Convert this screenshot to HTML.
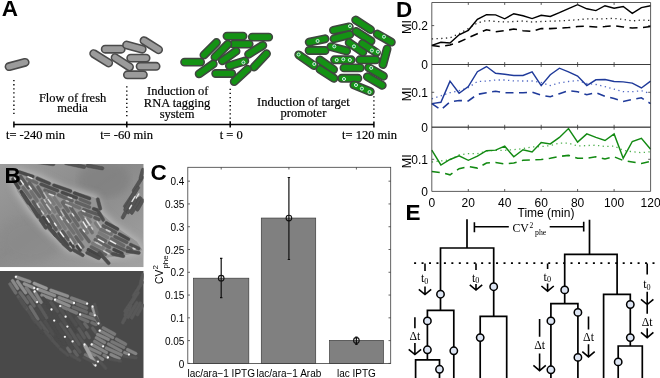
<!DOCTYPE html>
<html><head><meta charset="utf-8"><title>Figure</title>
<style>
html,body{margin:0;padding:0;background:#fff;}
body{width:660px;height:378px;overflow:hidden;font-family:"Liberation Sans",sans-serif;}
svg{display:block;}
text{opacity:0.999;}
</style></head><body>
<svg width="660" height="378" viewBox="0 0 660 378">
<rect width="660" height="378" fill="#fff"/>
<g id="panelA">
<rect x="-12.00" y="-3.65" width="24.00" height="7.30" rx="3.65" transform="translate(17.10 64.50) rotate(-15.0)" fill="#9b9b9b" stroke="#4a4a4a" stroke-width="1.6"/>
<rect x="-12.50" y="-3.65" width="25.00" height="7.30" rx="3.65" transform="translate(101.20 58.30) rotate(32.0)" fill="#9b9b9b" stroke="#4a4a4a" stroke-width="1.6"/>
<rect x="-11.65" y="-3.65" width="23.30" height="7.30" rx="3.65" transform="translate(113.20 49.20) rotate(0.0)" fill="#9b9b9b" stroke="#4a4a4a" stroke-width="1.6"/>
<rect x="-12.25" y="-3.65" width="24.50" height="7.30" rx="3.65" transform="translate(151.30 45.20) rotate(32.0)" fill="#9b9b9b" stroke="#4a4a4a" stroke-width="1.6"/>
<rect x="-11.75" y="-3.65" width="23.50" height="7.30" rx="3.65" transform="translate(134.40 47.10) rotate(15.0)" fill="#9b9b9b" stroke="#4a4a4a" stroke-width="1.6"/>
<rect x="-12.25" y="-3.65" width="24.50" height="7.30" rx="3.65" transform="translate(122.30 62.30) rotate(33.0)" fill="#9b9b9b" stroke="#4a4a4a" stroke-width="1.6"/>
<rect x="-11.35" y="-3.65" width="22.70" height="7.30" rx="3.65" transform="translate(138.40 58.10) rotate(0.0)" fill="#9b9b9b" stroke="#4a4a4a" stroke-width="1.6"/>
<rect x="-11.65" y="-3.65" width="23.30" height="7.30" rx="3.65" transform="translate(148.10 66.30) rotate(0.0)" fill="#9b9b9b" stroke="#4a4a4a" stroke-width="1.6"/>
<rect x="-11.65" y="-3.65" width="23.30" height="7.30" rx="3.65" transform="translate(135.40 74.80) rotate(0.0)" fill="#9b9b9b" stroke="#4a4a4a" stroke-width="1.6"/>
<rect x="-11.50" y="-3.65" width="23.00" height="7.30" rx="3.65" transform="translate(241.30 44.10) rotate(0.0)" fill="#149214" stroke="#3f463f" stroke-width="1.6"/>
<rect x="-11.65" y="-3.65" width="23.30" height="7.30" rx="3.65" transform="translate(235.00 36.10) rotate(0.0)" fill="#149214" stroke="#3f463f" stroke-width="1.6"/>
<rect x="-11.85" y="-3.65" width="23.70" height="7.30" rx="3.65" transform="translate(260.50 37.10) rotate(0.0)" fill="#149214" stroke="#3f463f" stroke-width="1.6"/>
<rect x="-12.50" y="-3.65" width="25.00" height="7.30" rx="3.65" transform="translate(210.20 48.80) rotate(-45.0)" fill="#149214" stroke="#3f463f" stroke-width="1.6"/>
<rect x="-12.75" y="-3.65" width="25.50" height="7.30" rx="3.65" transform="translate(221.40 50.70) rotate(-45.0)" fill="#149214" stroke="#3f463f" stroke-width="1.6"/>
<rect x="-12.00" y="-3.65" width="24.00" height="7.30" rx="3.65" transform="translate(229.20 56.00) rotate(-35.0)" fill="#149214" stroke="#3f463f" stroke-width="1.6"/>
<rect x="-12.00" y="-3.65" width="24.00" height="7.30" rx="3.65" transform="translate(255.70 49.80) rotate(-32.0)" fill="#149214" stroke="#3f463f" stroke-width="1.6"/>
<rect x="-12.75" y="-3.65" width="25.50" height="7.30" rx="3.65" transform="translate(260.30 60.40) rotate(-47.0)" fill="#149214" stroke="#3f463f" stroke-width="1.6"/>
<rect x="-11.65" y="-3.65" width="23.30" height="7.30" rx="3.65" transform="translate(192.60 62.10) rotate(0.0)" fill="#149214" stroke="#3f463f" stroke-width="1.6"/>
<rect x="-12.25" y="-3.65" width="24.50" height="7.30" rx="3.65" transform="translate(206.20 68.90) rotate(-35.0)" fill="#149214" stroke="#3f463f" stroke-width="1.6"/>
<rect x="-11.75" y="-3.65" width="23.50" height="7.30" rx="3.65" transform="translate(237.10 63.40) rotate(-17.0)" fill="#149214" stroke="#3f463f" stroke-width="1.6"/>
<rect x="-11.65" y="-3.65" width="23.30" height="7.30" rx="3.65" transform="translate(223.70 73.50) rotate(0.0)" fill="#149214" stroke="#3f463f" stroke-width="1.6"/>
<rect x="-12.75" y="-3.65" width="25.50" height="7.30" rx="3.65" transform="translate(240.90 75.40) rotate(-43.0)" fill="#149214" stroke="#3f463f" stroke-width="1.6"/>
<circle cx="243.40" cy="62.50" r="1.55" fill="#12a04a" stroke="#e4f3e4" stroke-width="0.95"/>
<rect x="-11.75" y="-3.65" width="23.50" height="7.30" rx="3.65" transform="translate(341.90 36.70) rotate(-15.0)" fill="#149214" stroke="#3f463f" stroke-width="1.6"/>
<rect x="-11.75" y="-3.65" width="23.50" height="7.30" rx="3.65" transform="translate(341.40 28.60) rotate(-12.0)" fill="#149214" stroke="#3f463f" stroke-width="1.6"/>
<rect x="-12.50" y="-3.65" width="25.00" height="7.30" rx="3.65" transform="translate(363.60 36.20) rotate(33.0)" fill="#149214" stroke="#3f463f" stroke-width="1.6"/>
<rect x="-12.50" y="-3.65" width="25.00" height="7.30" rx="3.65" transform="translate(363.10 24.80) rotate(33.0)" fill="#149214" stroke="#3f463f" stroke-width="1.6"/>
<rect x="-11.75" y="-3.65" width="23.50" height="7.30" rx="3.65" transform="translate(384.30 38.10) rotate(30.0)" fill="#149214" stroke="#3f463f" stroke-width="1.6"/>
<rect x="-11.75" y="-3.65" width="23.50" height="7.30" rx="3.65" transform="translate(385.00 56.70) rotate(-75.0)" fill="#149214" stroke="#3f463f" stroke-width="1.6"/>
<rect x="-11.65" y="-3.65" width="23.30" height="7.30" rx="3.65" transform="translate(317.10 50.50) rotate(0.0)" fill="#149214" stroke="#3f463f" stroke-width="1.6"/>
<rect x="-11.75" y="-3.65" width="23.50" height="7.30" rx="3.65" transform="translate(317.10 40.50) rotate(-12.0)" fill="#149214" stroke="#3f463f" stroke-width="1.6"/>
<rect x="-11.75" y="-3.65" width="23.50" height="7.30" rx="3.65" transform="translate(338.80 48.80) rotate(15.0)" fill="#149214" stroke="#3f463f" stroke-width="1.6"/>
<rect x="-12.00" y="-3.65" width="24.00" height="7.30" rx="3.65" transform="translate(356.00 47.40) rotate(35.0)" fill="#149214" stroke="#3f463f" stroke-width="1.6"/>
<rect x="-12.00" y="-3.65" width="24.00" height="7.30" rx="3.65" transform="translate(369.50 48.10) rotate(33.0)" fill="#149214" stroke="#3f463f" stroke-width="1.6"/>
<rect x="-13.00" y="-3.65" width="26.00" height="7.30" rx="3.65" transform="translate(306.40 60.20) rotate(35.0)" fill="#149214" stroke="#3f463f" stroke-width="1.6"/>
<rect x="-12.00" y="-3.65" width="24.00" height="7.30" rx="3.65" transform="translate(326.70 64.80) rotate(35.0)" fill="#149214" stroke="#3f463f" stroke-width="1.6"/>
<rect x="-12.00" y="-3.65" width="24.00" height="7.30" rx="3.65" transform="translate(342.90 59.80) rotate(0.0)" fill="#149214" stroke="#3f463f" stroke-width="1.6"/>
<rect x="-11.75" y="-3.65" width="23.50" height="7.30" rx="3.65" transform="translate(367.90 59.80) rotate(0.0)" fill="#149214" stroke="#3f463f" stroke-width="1.6"/>
<rect x="-11.75" y="-3.65" width="23.50" height="7.30" rx="3.65" transform="translate(352.10 67.90) rotate(0.0)" fill="#149214" stroke="#3f463f" stroke-width="1.6"/>
<rect x="-12.25" y="-3.65" width="24.50" height="7.30" rx="3.65" transform="translate(376.00 71.90) rotate(30.0)" fill="#149214" stroke="#3f463f" stroke-width="1.6"/>
<rect x="-12.00" y="-3.65" width="24.00" height="7.30" rx="3.65" transform="translate(326.90 73.80) rotate(33.0)" fill="#149214" stroke="#3f463f" stroke-width="1.6"/>
<rect x="-11.75" y="-3.65" width="23.50" height="7.30" rx="3.65" transform="translate(349.80 78.30) rotate(0.0)" fill="#149214" stroke="#3f463f" stroke-width="1.6"/>
<rect x="-12.25" y="-3.65" width="24.50" height="7.30" rx="3.65" transform="translate(374.80 81.00) rotate(30.0)" fill="#149214" stroke="#3f463f" stroke-width="1.6"/>
<rect x="-12.50" y="-3.65" width="25.00" height="7.30" rx="3.65" transform="translate(362.10 88.30) rotate(22.0)" fill="#149214" stroke="#3f463f" stroke-width="1.6"/>
<circle cx="350.00" cy="26.20" r="1.55" fill="#12a04a" stroke="#e4f3e4" stroke-width="0.95"/>
<circle cx="384.00" cy="36.70" r="1.55" fill="#12a04a" stroke="#e4f3e4" stroke-width="0.95"/>
<circle cx="317.60" cy="41.00" r="1.55" fill="#12a04a" stroke="#e4f3e4" stroke-width="0.95"/>
<circle cx="334.30" cy="46.40" r="1.55" fill="#12a04a" stroke="#e4f3e4" stroke-width="0.95"/>
<circle cx="354.00" cy="46.40" r="1.55" fill="#12a04a" stroke="#e4f3e4" stroke-width="0.95"/>
<circle cx="371.90" cy="50.50" r="1.55" fill="#12a04a" stroke="#e4f3e4" stroke-width="0.95"/>
<circle cx="377.90" cy="51.70" r="1.55" fill="#12a04a" stroke="#e4f3e4" stroke-width="0.95"/>
<circle cx="298.60" cy="54.50" r="1.55" fill="#12a04a" stroke="#e4f3e4" stroke-width="0.95"/>
<circle cx="314.30" cy="64.00" r="1.55" fill="#12a04a" stroke="#e4f3e4" stroke-width="0.95"/>
<circle cx="336.70" cy="60.00" r="1.55" fill="#12a04a" stroke="#e4f3e4" stroke-width="0.95"/>
<circle cx="343.30" cy="59.30" r="1.55" fill="#12a04a" stroke="#e4f3e4" stroke-width="0.95"/>
<circle cx="349.80" cy="60.00" r="1.55" fill="#12a04a" stroke="#e4f3e4" stroke-width="0.95"/>
<circle cx="371.20" cy="67.90" r="1.55" fill="#12a04a" stroke="#e4f3e4" stroke-width="0.95"/>
<circle cx="344.00" cy="79.00" r="1.55" fill="#12a04a" stroke="#e4f3e4" stroke-width="0.95"/>
<circle cx="356.00" cy="85.00" r="1.55" fill="#12a04a" stroke="#e4f3e4" stroke-width="0.95"/>
<circle cx="361.90" cy="88.60" r="1.55" fill="#12a04a" stroke="#e4f3e4" stroke-width="0.95"/>
<circle cx="369.50" cy="92.10" r="1.55" fill="#12a04a" stroke="#e4f3e4" stroke-width="0.95"/>
<g stroke="#000" fill="none">
<path d="M13.9 124.5H373.9" stroke-width="1.5"/>
<path d="M13.9 121.4V127.6" stroke-width="1.5"/>
<path d="M126.8 121.4V127.6" stroke-width="1.5"/>
<path d="M230.2 121.4V127.6" stroke-width="1.5"/>
<path d="M373.9 121.4V127.6" stroke-width="1.5"/>
<path d="M13.9 80.0V115" stroke-width="1.4" stroke-dasharray="1.3 2.8"/>
<path d="M126.8 86.3V116.5" stroke-width="1.4" stroke-dasharray="1.3 2.8"/>
<path d="M230.2 88.7V122" stroke-width="1.4" stroke-dasharray="1.3 2.8"/>
<path d="M373.9 96.2V120.5" stroke-width="1.4" stroke-dasharray="1.3 2.8"/>
</g>
<g font-family="Liberation Serif, serif" font-size="12.5px" fill="#000" stroke="#000" stroke-width="0.2" text-anchor="middle">
<text x="72.6" y="101.6">Flow of fresh</text>
<text x="72.6" y="112.4">media</text>
<text x="177.7" y="94.8">Induction of</text>
<text x="177.0" y="106.7">RNA tagging</text>
<text x="177.0" y="118">system</text>
<text x="303.4" y="106.4">Induction of target</text>
<text x="303.4" y="117">promoter</text>
<text x="35.5" y="138.8">t= -240 min</text>
<text x="126.6" y="138.8">t= -60 min</text>
<text x="231.2" y="138.8">t = 0</text>
<text x="369.5" y="138.8">t= 120 min</text>
</g>
</g>
<defs><filter id="b1" x="-5%" y="-5%" width="110%" height="110%"><feGaussianBlur stdDeviation="0.6"/></filter><filter id="b2" x="-5%" y="-5%" width="110%" height="110%"><feGaussianBlur stdDeviation="3"/></filter><filter id="b3" x="-5%" y="-5%" width="110%" height="110%"><feGaussianBlur stdDeviation="0.5"/></filter><linearGradient id="bgT" x1="0" y1="0" x2="1" y2="1"><stop offset="0" stop-color="#9c9c9c"/><stop offset="0.45" stop-color="#8a8a8a"/><stop offset="1" stop-color="#a2a2a2"/></linearGradient><clipPath id="cT"><rect x="0" y="164" width="143.7" height="103.2"/></clipPath><clipPath id="cB"><rect x="0" y="271" width="143.7" height="107"/></clipPath></defs>
<g clip-path="url(#cT)">
<rect x="0" y="164" width="143.7" height="103.2" fill="url(#bgT)"/>
<ellipse cx="104" cy="180" rx="26" ry="18" fill="#808080" opacity="0.7" filter="url(#b2)"/>
<ellipse cx="30" cy="240" rx="30" ry="22" fill="#8a8a8a" opacity="0.6" filter="url(#b2)"/>
<polygon points="17.5,170.2 37.9,176 64.1,189.1 87.4,195 96.1,197.9 100.5,212.4 116.5,227 136.9,241.6 142.7,250.3 128.2,254.7 102,258.5 87.4,253.2 69.9,250.3 59.7,241.6 43.7,227 29.1,209.5 17.5,192 11.7,177.5" fill="#b4b4b4" stroke="#b4b4b4" stroke-width="5" filter="url(#b2)"/>
<polygon points="17.5,170.2 37.9,176 64.1,189.1 87.4,195 96.1,197.9 100.5,212.4 116.5,227 136.9,241.6 142.7,250.3 128.2,254.7 102,258.5 87.4,253.2 69.9,250.3 59.7,241.6 43.7,227 29.1,209.5 17.5,192 11.7,177.5" fill="#b8b8b8" filter="url(#b1)"/>
<polygon points="17.5,170.2 37.9,176 64.1,189.1 87.4,195 96.1,197.9 100.5,212.4 116.5,227 136.9,241.6 142.7,250.3 128.2,254.7 102,258.5 87.4,253.2 69.9,250.3 59.7,241.6 43.7,227 29.1,209.5 17.5,192 11.7,177.5" fill="#949494" filter="url(#b1)"/>
<g filter="url(#b1)">
<rect x="-8.62" y="-1.60" width="17.24" height="3.20" rx="1.60" transform="translate(26.09 174.30) rotate(18.8)" fill="#4a4a4a" stroke="#4a4a4a" stroke-width="0.3"/>
<rect x="-8.03" y="-1.60" width="16.07" height="3.20" rx="1.60" transform="translate(43.27 180.89) rotate(22.7)" fill="#4a4a4a" stroke="#4a4a4a" stroke-width="0.3"/>
<rect x="-10.37" y="-1.60" width="20.75" height="3.20" rx="1.60" transform="translate(62.22 188.17) rotate(19.2)" fill="#4a4a4a" stroke="#4a4a4a" stroke-width="0.3"/>
<rect x="-9.57" y="-1.60" width="19.15" height="3.20" rx="1.60" transform="translate(82.00 195.76) rotate(20.0)" fill="#4a4a4a" stroke="#4a4a4a" stroke-width="0.3"/>
<rect x="-6.62" y="-1.60" width="13.23" height="3.20" rx="1.60" transform="translate(32.05 180.87) rotate(23.4)" fill="#6a6a6a" stroke="#6a6a6a" stroke-width="0.3"/>
<rect x="-10.41" y="-1.60" width="20.82" height="3.20" rx="1.60" transform="translate(49.30 187.49) rotate(21.3)" fill="#505050" stroke="#505050" stroke-width="0.3"/>
<rect x="-9.11" y="-1.60" width="18.22" height="3.20" rx="1.60" transform="translate(69.34 195.19) rotate(20.3)" fill="#4a4a4a" stroke="#4a4a4a" stroke-width="0.3"/>
<rect x="-6.66" y="-1.60" width="13.33" height="3.20" rx="1.60" transform="translate(84.88 201.15) rotate(22.8)" fill="#626262" stroke="#626262" stroke-width="0.3"/>
<rect x="-6.55" y="-1.60" width="13.09" height="3.20" rx="1.60" transform="translate(49.62 191.90) rotate(20.2)" fill="#626262" stroke="#626262" stroke-width="0.3"/>
<rect x="-8.96" y="-1.60" width="17.92" height="3.20" rx="1.60" transform="translate(65.30 197.92) rotate(23.6)" fill="#626262" stroke="#626262" stroke-width="0.3"/>
<rect x="-8.60" y="-1.60" width="17.21" height="3.20" rx="1.60" transform="translate(82.93 204.69) rotate(20.5)" fill="#626262" stroke="#626262" stroke-width="0.3"/>
<rect x="-3.51" y="-1.60" width="7.02" height="3.20" rx="1.60" transform="translate(95.41 209.48) rotate(19.5)" fill="#4a4a4a" stroke="#4a4a4a" stroke-width="0.3"/>
<rect x="-10.22" y="-1.60" width="20.43" height="3.20" rx="1.60" transform="translate(71.65 204.64) rotate(22.7)" fill="#707070" stroke="#707070" stroke-width="0.3"/>
<rect x="-9.64" y="-1.60" width="19.29" height="3.20" rx="1.60" transform="translate(91.31 212.19) rotate(18.1)" fill="#5a5a5a" stroke="#5a5a5a" stroke-width="0.3"/>
<rect x="-6.76" y="-1.60" width="13.51" height="3.20" rx="1.60" transform="translate(86.11 214.48) rotate(23.1)" fill="#686868" stroke="#686868" stroke-width="0.3"/>
<rect x="-3.79" y="-1.60" width="7.59" height="3.20" rx="1.60" transform="translate(96.88 218.61) rotate(23.6)" fill="#5a5a5a" stroke="#5a5a5a" stroke-width="0.3"/>
<rect x="-3.89" y="-1.60" width="7.78" height="3.20" rx="1.60" transform="translate(96.92 225.01) rotate(55.2)" fill="#7a7a7a" stroke="#7a7a7a" stroke-width="0.3"/>
<rect x="-3.76" y="-1.60" width="7.51" height="3.20" rx="1.60" transform="translate(88.99 220.40) rotate(53.5)" fill="#7a7a7a" stroke="#7a7a7a" stroke-width="0.3"/>
<rect x="-7.93" y="-1.60" width="15.87" height="3.20" rx="1.60" transform="translate(82.88 218.49) rotate(56.7)" fill="#707070" stroke="#707070" stroke-width="0.3"/>
<rect x="-4.42" y="-1.60" width="8.85" height="3.20" rx="1.60" transform="translate(90.74 230.15) rotate(58.8)" fill="#707070" stroke="#707070" stroke-width="0.3"/>
<rect x="-9.06" y="-1.60" width="18.12" height="3.20" rx="1.60" transform="translate(74.73 213.57) rotate(55.8)" fill="#626262" stroke="#626262" stroke-width="0.3"/>
<rect x="-6.82" y="-1.60" width="13.63" height="3.20" rx="1.60" transform="translate(84.65 228.28) rotate(58.4)" fill="#7a7a7a" stroke="#7a7a7a" stroke-width="0.3"/>
<rect x="-6.85" y="-1.60" width="13.71" height="3.20" rx="1.60" transform="translate(65.38 206.86) rotate(56.2)" fill="#686868" stroke="#686868" stroke-width="0.3"/>
<rect x="-7.80" y="-1.60" width="15.59" height="3.20" rx="1.60" transform="translate(74.60 220.52) rotate(56.8)" fill="#686868" stroke="#686868" stroke-width="0.3"/>
<rect x="-8.69" y="-1.60" width="17.37" height="3.20" rx="1.60" transform="translate(84.91 235.81) rotate(53.2)" fill="#626262" stroke="#626262" stroke-width="0.3"/>
<rect x="-6.95" y="-1.60" width="13.91" height="3.20" rx="1.60" transform="translate(57.30 202.03) rotate(53.5)" fill="#7a7a7a" stroke="#7a7a7a" stroke-width="0.3"/>
<rect x="-7.95" y="-1.60" width="15.91" height="3.20" rx="1.60" transform="translate(66.61 215.84) rotate(56.6)" fill="#626262" stroke="#626262" stroke-width="0.3"/>
<rect x="-10.25" y="-1.60" width="20.49" height="3.20" rx="1.60" transform="translate(77.39 231.81) rotate(57.7)" fill="#707070" stroke="#707070" stroke-width="0.3"/>
<rect x="-8.39" y="-1.60" width="16.77" height="3.20" rx="1.60" transform="translate(50.13 198.56) rotate(54.1)" fill="#7a7a7a" stroke="#7a7a7a" stroke-width="0.3"/>
<rect x="-6.05" y="-1.60" width="12.10" height="3.20" rx="1.60" transform="translate(58.72 211.28) rotate(58.5)" fill="#686868" stroke="#686868" stroke-width="0.3"/>
<rect x="-10.42" y="-1.60" width="20.85" height="3.20" rx="1.60" transform="translate(68.64 226.00) rotate(54.2)" fill="#707070" stroke="#707070" stroke-width="0.3"/>
<rect x="-7.71" y="-1.60" width="15.42" height="3.20" rx="1.60" transform="translate(79.39 241.94) rotate(55.2)" fill="#626262" stroke="#626262" stroke-width="0.3"/>
<rect x="-7.60" y="-1.60" width="15.20" height="3.20" rx="1.60" transform="translate(40.99 192.16) rotate(58.9)" fill="#626262" stroke="#626262" stroke-width="0.3"/>
<rect x="-8.62" y="-1.60" width="17.23" height="3.20" rx="1.60" transform="translate(50.63 206.45) rotate(53.5)" fill="#7a7a7a" stroke="#7a7a7a" stroke-width="0.3"/>
<rect x="-8.96" y="-1.60" width="17.92" height="3.20" rx="1.60" transform="translate(61.36 222.35) rotate(58.5)" fill="#7a7a7a" stroke="#7a7a7a" stroke-width="0.3"/>
<rect x="-7.66" y="-1.60" width="15.33" height="3.20" rx="1.60" transform="translate(71.52 237.42) rotate(57.5)" fill="#707070" stroke="#707070" stroke-width="0.3"/>
<rect x="-4.04" y="-1.60" width="8.07" height="3.20" rx="1.60" transform="translate(78.81 248.23) rotate(54.3)" fill="#444" stroke="#444" stroke-width="0.3"/>
<rect x="-10.30" y="-1.60" width="20.60" height="3.20" rx="1.60" transform="translate(34.50 189.69) rotate(53.1)" fill="#626262" stroke="#626262" stroke-width="0.3"/>
<rect x="-8.71" y="-1.60" width="17.42" height="3.20" rx="1.60" transform="translate(45.87 206.54) rotate(58.3)" fill="#707070" stroke="#707070" stroke-width="0.3"/>
<rect x="-8.86" y="-1.60" width="17.73" height="3.20" rx="1.60" transform="translate(56.18 221.83) rotate(57.3)" fill="#707070" stroke="#707070" stroke-width="0.3"/>
<rect x="-6.54" y="-1.60" width="13.09" height="3.20" rx="1.60" transform="translate(65.33 235.39) rotate(53.9)" fill="#5a5a5a" stroke="#5a5a5a" stroke-width="0.3"/>
<rect x="-3.79" y="-1.60" width="7.59" height="3.20" rx="1.60" transform="translate(71.85 245.06) rotate(55.7)" fill="#444" stroke="#444" stroke-width="0.3"/>
<rect x="-8.49" y="-1.60" width="16.98" height="3.20" rx="1.60" transform="translate(24.57 182.12) rotate(54.2)" fill="#5a5a5a" stroke="#5a5a5a" stroke-width="0.3"/>
<rect x="-7.13" y="-1.60" width="14.27" height="3.20" rx="1.60" transform="translate(34.11 196.26) rotate(56.9)" fill="#707070" stroke="#707070" stroke-width="0.3"/>
<rect x="-6.39" y="-1.60" width="12.77" height="3.20" rx="1.60" transform="translate(42.60 208.84) rotate(53.2)" fill="#7a7a7a" stroke="#7a7a7a" stroke-width="0.3"/>
<rect x="-9.26" y="-1.60" width="18.52" height="3.20" rx="1.60" transform="translate(52.10 222.93) rotate(58.5)" fill="#5a5a5a" stroke="#5a5a5a" stroke-width="0.3"/>
<rect x="-8.88" y="-1.60" width="17.77" height="3.20" rx="1.60" transform="translate(63.17 239.35) rotate(53.8)" fill="#4a4a4a" stroke="#4a4a4a" stroke-width="0.3"/>
<rect x="-6.20" y="-1.60" width="12.40" height="3.20" rx="1.60" transform="translate(18.05 179.61) rotate(57.0)" fill="#4a4a4a" stroke="#4a4a4a" stroke-width="0.3"/>
<rect x="-7.80" y="-1.60" width="15.61" height="3.20" rx="1.60" transform="translate(26.78 192.56) rotate(53.4)" fill="#6a6a6a" stroke="#6a6a6a" stroke-width="0.3"/>
<rect x="-8.71" y="-1.60" width="17.42" height="3.20" rx="1.60" transform="translate(37.06 207.79) rotate(58.4)" fill="#5a5a5a" stroke="#5a5a5a" stroke-width="0.3"/>
<rect x="-7.61" y="-1.60" width="15.21" height="3.20" rx="1.60" transform="translate(46.82 222.26) rotate(53.6)" fill="#444" stroke="#444" stroke-width="0.3"/>
<rect x="-4.13" y="-1.60" width="8.27" height="3.20" rx="1.60" transform="translate(54.21 233.21) rotate(54.9)" fill="#444" stroke="#444" stroke-width="0.3"/>
<rect x="-6.80" y="-1.60" width="13.60" height="3.20" rx="1.60" transform="translate(15.82 183.46) rotate(57.1)" fill="#444" stroke="#444" stroke-width="0.3"/>
<rect x="-9.55" y="-1.60" width="19.10" height="3.20" rx="1.60" transform="translate(25.71 198.12) rotate(55.6)" fill="#444" stroke="#444" stroke-width="0.3"/>
<rect x="-6.15" y="-1.60" width="12.30" height="3.20" rx="1.60" transform="translate(35.54 212.70) rotate(58.6)" fill="#505050" stroke="#505050" stroke-width="0.3"/>
<rect x="-6.26" y="-1.60" width="12.53" height="3.20" rx="1.60" transform="translate(43.15 223.97) rotate(56.4)" fill="#505050" stroke="#505050" stroke-width="0.3"/>
<rect x="-7.95" y="-1.60" width="15.90" height="3.20" rx="1.60" transform="translate(111.91 226.00) rotate(28.3)" fill="#4a4a4a" stroke="#4a4a4a" stroke-width="0.3"/>
<rect x="-8.56" y="-1.60" width="17.13" height="3.20" rx="1.60" transform="translate(109.39 229.20) rotate(27.6)" fill="#5a5a5a" stroke="#5a5a5a" stroke-width="0.3"/>
<rect x="-6.72" y="-1.60" width="13.45" height="3.20" rx="1.60" transform="translate(123.96 236.63) rotate(29.1)" fill="#4a4a4a" stroke="#4a4a4a" stroke-width="0.3"/>
<rect x="-7.43" y="-1.60" width="14.86" height="3.20" rx="1.60" transform="translate(105.92 231.92) rotate(24.4)" fill="#707070" stroke="#707070" stroke-width="0.3"/>
<rect x="-8.09" y="-1.60" width="16.17" height="3.20" rx="1.60" transform="translate(120.85 239.54) rotate(25.3)" fill="#5a5a5a" stroke="#5a5a5a" stroke-width="0.3"/>
<rect x="-6.04" y="-1.60" width="12.08" height="3.20" rx="1.60" transform="translate(134.65 246.57) rotate(25.7)" fill="#505050" stroke="#505050" stroke-width="0.3"/>
<rect x="-6.25" y="-1.60" width="12.50" height="3.20" rx="1.60" transform="translate(103.45 235.15) rotate(29.6)" fill="#7a7a7a" stroke="#7a7a7a" stroke-width="0.3"/>
<rect x="-8.54" y="-1.60" width="17.08" height="3.20" rx="1.60" transform="translate(117.57 242.35) rotate(28.8)" fill="#686868" stroke="#686868" stroke-width="0.3"/>
<rect x="-3.60" y="-1.60" width="7.20" height="3.20" rx="1.60" transform="translate(129.54 248.45) rotate(25.9)" fill="#5a5a5a" stroke="#5a5a5a" stroke-width="0.3"/>
<rect x="-6.16" y="-1.60" width="12.33" height="3.20" rx="1.60" transform="translate(101.61 238.71) rotate(30.0)" fill="#626262" stroke="#626262" stroke-width="0.3"/>
<rect x="-9.79" y="-1.60" width="19.58" height="3.20" rx="1.60" transform="translate(116.85 246.47) rotate(24.3)" fill="#5a5a5a" stroke="#5a5a5a" stroke-width="0.3"/>
<rect x="-9.67" y="-1.60" width="19.35" height="3.20" rx="1.60" transform="translate(102.29 243.54) rotate(28.7)" fill="#626262" stroke="#626262" stroke-width="0.3"/>
<rect x="-6.06" y="-1.60" width="12.11" height="3.20" rx="1.60" transform="translate(118.03 251.57) rotate(26.3)" fill="#444" stroke="#444" stroke-width="0.3"/>
<rect x="-7.37" y="-1.60" width="14.73" height="3.20" rx="1.60" transform="translate(97.93 245.81) rotate(24.5)" fill="#7a7a7a" stroke="#7a7a7a" stroke-width="0.3"/>
<rect x="-3.55" y="-1.60" width="7.09" height="3.20" rx="1.60" transform="translate(108.64 251.27) rotate(29.2)" fill="#6a6a6a" stroke="#6a6a6a" stroke-width="0.3"/>
<rect x="-9.61" y="-1.60" width="19.22" height="3.20" rx="1.60" transform="translate(98.44 250.56) rotate(27.7)" fill="#626262" stroke="#626262" stroke-width="0.3"/>
<rect x="-8.46" y="-1.60" width="16.92" height="3.20" rx="1.60" transform="translate(94.46 253.02) rotate(28.4)" fill="#444" stroke="#444" stroke-width="0.3"/>
</g>
<g filter="url(#b3)">
<rect x="-2.80" y="-0.60" width="5.60" height="1.20" rx="0.60" transform="translate(29.98 177.69) rotate(23.4)" fill="#f2f2f2" stroke="#f2f2f2" stroke-width="0.2"/>
<rect x="-2.50" y="-0.60" width="5.00" height="1.20" rx="0.60" transform="translate(69.96 197.66) rotate(20.3)" fill="#cfcfcf" stroke="#cfcfcf" stroke-width="0.2"/>
<rect x="-2.86" y="-0.60" width="5.73" height="1.20" rx="0.60" transform="translate(51.29 194.75) rotate(20.2)" fill="#e0e0e0" stroke="#e0e0e0" stroke-width="0.2"/>
<rect x="-1.76" y="-0.60" width="3.52" height="1.20" rx="0.60" transform="translate(67.26 201.07) rotate(23.6)" fill="#bdbdbd" stroke="#bdbdbd" stroke-width="0.2"/>
<rect x="-3.68" y="-0.60" width="7.37" height="1.20" rx="0.60" transform="translate(68.53 205.61) rotate(22.7)" fill="#bdbdbd" stroke="#bdbdbd" stroke-width="0.2"/>
<rect x="-1.91" y="-0.60" width="3.82" height="1.20" rx="0.60" transform="translate(83.72 211.17) rotate(23.1)" fill="#e0e0e0" stroke="#e0e0e0" stroke-width="0.2"/>
<rect x="-3.83" y="-0.60" width="7.65" height="1.20" rx="0.60" transform="translate(99.05 224.39) rotate(55.2)" fill="#cfcfcf" stroke="#cfcfcf" stroke-width="0.2"/>
<rect x="-2.87" y="-0.60" width="5.74" height="1.20" rx="0.60" transform="translate(88.69 223.52) rotate(53.5)" fill="#e0e0e0" stroke="#e0e0e0" stroke-width="0.2"/>
<rect x="-3.62" y="-0.60" width="7.23" height="1.20" rx="0.60" transform="translate(86.86 220.74) rotate(56.7)" fill="#e0e0e0" stroke="#e0e0e0" stroke-width="0.2"/>
<rect x="-1.64" y="-0.60" width="3.27" height="1.20" rx="0.60" transform="translate(92.08 228.30) rotate(58.8)" fill="#cfcfcf" stroke="#cfcfcf" stroke-width="0.2"/>
<rect x="-1.94" y="-0.60" width="3.89" height="1.20" rx="0.60" transform="translate(72.99 214.75) rotate(55.8)" fill="#e0e0e0" stroke="#e0e0e0" stroke-width="0.2"/>
<rect x="-3.75" y="-0.60" width="7.50" height="1.20" rx="0.60" transform="translate(84.89 224.66) rotate(58.4)" fill="#f2f2f2" stroke="#f2f2f2" stroke-width="0.2"/>
<rect x="-1.69" y="-0.60" width="3.38" height="1.20" rx="0.60" transform="translate(83.83 230.86) rotate(53.2)" fill="#f2f2f2" stroke="#f2f2f2" stroke-width="0.2"/>
<rect x="-2.06" y="-0.60" width="4.12" height="1.20" rx="0.60" transform="translate(67.67 221.26) rotate(56.6)" fill="#cfcfcf" stroke="#cfcfcf" stroke-width="0.2"/>
<rect x="-2.85" y="-0.60" width="5.69" height="1.20" rx="0.60" transform="translate(49.52 201.30) rotate(54.1)" fill="#e0e0e0" stroke="#e0e0e0" stroke-width="0.2"/>
<rect x="-3.31" y="-0.60" width="6.62" height="1.20" rx="0.60" transform="translate(62.41 213.30) rotate(58.5)" fill="#bdbdbd" stroke="#bdbdbd" stroke-width="0.2"/>
<rect x="-3.19" y="-0.60" width="6.38" height="1.20" rx="0.60" transform="translate(79.67 246.02) rotate(55.2)" fill="#e0e0e0" stroke="#e0e0e0" stroke-width="0.2"/>
<rect x="-3.45" y="-0.60" width="6.90" height="1.20" rx="0.60" transform="translate(45.35 195.32) rotate(58.9)" fill="#bdbdbd" stroke="#bdbdbd" stroke-width="0.2"/>
<rect x="-4.00" y="-0.60" width="8.00" height="1.20" rx="0.60" transform="translate(48.51 207.12) rotate(53.5)" fill="#cfcfcf" stroke="#cfcfcf" stroke-width="0.2"/>
<rect x="-2.41" y="-0.60" width="4.82" height="1.20" rx="0.60" transform="translate(61.22 218.11) rotate(58.5)" fill="#e0e0e0" stroke="#e0e0e0" stroke-width="0.2"/>
<rect x="-3.53" y="-0.60" width="7.05" height="1.20" rx="0.60" transform="translate(71.57 241.40) rotate(57.5)" fill="#cfcfcf" stroke="#cfcfcf" stroke-width="0.2"/>
<rect x="-2.34" y="-0.60" width="4.69" height="1.20" rx="0.60" transform="translate(30.20 187.46) rotate(53.1)" fill="#f2f2f2" stroke="#f2f2f2" stroke-width="0.2"/>
<rect x="-1.91" y="-0.60" width="3.82" height="1.20" rx="0.60" transform="translate(44.80 200.81) rotate(58.3)" fill="#bdbdbd" stroke="#bdbdbd" stroke-width="0.2"/>
<rect x="-2.12" y="-0.60" width="4.24" height="1.20" rx="0.60" transform="translate(55.34 224.41) rotate(57.3)" fill="#f2f2f2" stroke="#f2f2f2" stroke-width="0.2"/>
<rect x="-3.56" y="-0.60" width="7.11" height="1.20" rx="0.60" transform="translate(61.89 234.24) rotate(53.9)" fill="#f2f2f2" stroke="#f2f2f2" stroke-width="0.2"/>
<rect x="-2.96" y="-0.60" width="5.92" height="1.20" rx="0.60" transform="translate(71.54 248.33) rotate(55.7)" fill="#bdbdbd" stroke="#bdbdbd" stroke-width="0.2"/>
<rect x="-2.79" y="-0.60" width="5.59" height="1.20" rx="0.60" transform="translate(22.10 182.28) rotate(54.2)" fill="#f2f2f2" stroke="#f2f2f2" stroke-width="0.2"/>
<rect x="-2.28" y="-0.60" width="4.57" height="1.20" rx="0.60" transform="translate(42.58 212.33) rotate(53.2)" fill="#cfcfcf" stroke="#cfcfcf" stroke-width="0.2"/>
<rect x="-2.86" y="-0.60" width="5.73" height="1.20" rx="0.60" transform="translate(48.02 220.30) rotate(58.5)" fill="#f2f2f2" stroke="#f2f2f2" stroke-width="0.2"/>
<rect x="-2.62" y="-0.60" width="5.25" height="1.20" rx="0.60" transform="translate(15.63 179.73) rotate(57.0)" fill="#e0e0e0" stroke="#e0e0e0" stroke-width="0.2"/>
<rect x="-2.71" y="-0.60" width="5.43" height="1.20" rx="0.60" transform="translate(38.19 205.62) rotate(58.4)" fill="#cfcfcf" stroke="#cfcfcf" stroke-width="0.2"/>
<rect x="-2.53" y="-0.60" width="5.07" height="1.20" rx="0.60" transform="translate(108.11 230.90) rotate(27.6)" fill="#bdbdbd" stroke="#bdbdbd" stroke-width="0.2"/>
<rect x="-2.72" y="-0.60" width="5.43" height="1.20" rx="0.60" transform="translate(108.23 230.67) rotate(24.4)" fill="#cfcfcf" stroke="#cfcfcf" stroke-width="0.2"/>
<rect x="-1.75" y="-0.60" width="3.51" height="1.20" rx="0.60" transform="translate(134.04 248.60) rotate(25.7)" fill="#cfcfcf" stroke="#cfcfcf" stroke-width="0.2"/>
<rect x="-3.56" y="-0.60" width="7.13" height="1.20" rx="0.60" transform="translate(112.99 242.23) rotate(28.8)" fill="#f2f2f2" stroke="#f2f2f2" stroke-width="0.2"/>
<rect x="-2.51" y="-0.60" width="5.03" height="1.20" rx="0.60" transform="translate(129.43 250.73) rotate(25.9)" fill="#e0e0e0" stroke="#e0e0e0" stroke-width="0.2"/>
<rect x="-3.66" y="-0.60" width="7.33" height="1.20" rx="0.60" transform="translate(101.02 240.80) rotate(30.0)" fill="#f2f2f2" stroke="#f2f2f2" stroke-width="0.2"/>
<rect x="-3.32" y="-0.60" width="6.63" height="1.20" rx="0.60" transform="translate(99.12 244.20) rotate(28.7)" fill="#bdbdbd" stroke="#bdbdbd" stroke-width="0.2"/>
<rect x="-1.78" y="-0.60" width="3.56" height="1.20" rx="0.60" transform="translate(118.65 254.21) rotate(26.3)" fill="#f2f2f2" stroke="#f2f2f2" stroke-width="0.2"/>
<rect x="-2.30" y="-0.60" width="4.61" height="1.20" rx="0.60" transform="translate(96.79 242.98) rotate(24.5)" fill="#bdbdbd" stroke="#bdbdbd" stroke-width="0.2"/>
<rect x="-3.68" y="-0.60" width="7.35" height="1.20" rx="0.60" transform="translate(106.46 252.46) rotate(29.2)" fill="#cfcfcf" stroke="#cfcfcf" stroke-width="0.2"/>
</g>
<g filter="url(#b1)">
<rect x="-11.00" y="-1.65" width="22.00" height="3.30" rx="1.65" transform="translate(75.00 165.00) rotate(12.0)" fill="#555" stroke="#484848" stroke-width="0.5"/>
<rect x="-9.00" y="-1.65" width="18.00" height="3.30" rx="1.65" transform="translate(95.00 167.00) rotate(10.0)" fill="#555" stroke="#484848" stroke-width="0.5"/>
<rect x="-10.00" y="-1.65" width="20.00" height="3.30" rx="1.65" transform="translate(45.00 163.00) rotate(8.0)" fill="#555" stroke="#484848" stroke-width="0.5"/>
<rect x="-9.50" y="-1.65" width="19.00" height="3.30" rx="1.65" transform="translate(126.50 210.50) rotate(-62.0)" fill="#555" stroke="#484848" stroke-width="0.5"/>
<rect x="-10.50" y="-1.65" width="21.00" height="3.30" rx="1.65" transform="translate(130.00 199.00) rotate(-56.0)" fill="#555" stroke="#484848" stroke-width="0.5"/>
<rect x="-10.00" y="-1.65" width="20.00" height="3.30" rx="1.65" transform="translate(136.00 205.50) rotate(-60.0)" fill="#555" stroke="#484848" stroke-width="0.5"/>
<rect x="-7.00" y="-1.65" width="14.00" height="3.30" rx="1.65" transform="translate(140.00 205.00) rotate(-60.0)" fill="#555" stroke="#484848" stroke-width="0.5"/>
<rect x="-9.50" y="-1.65" width="19.00" height="3.30" rx="1.65" transform="translate(138.00 184.00) rotate(-58.0)" fill="#555" stroke="#484848" stroke-width="0.5"/>
<rect x="-6.00" y="-1.65" width="12.00" height="3.30" rx="1.65" transform="translate(141.80 174.00) rotate(-75.0)" fill="#555" stroke="#484848" stroke-width="0.5"/>
<rect x="-10.00" y="-1.65" width="20.00" height="3.30" rx="1.65" transform="translate(132.50 205.00) rotate(-59.0)" fill="#555" stroke="#484848" stroke-width="0.5"/>
<rect x="-8.00" y="-1.65" width="16.00" height="3.30" rx="1.65" transform="translate(134.50 193.00) rotate(-57.0)" fill="#555" stroke="#484848" stroke-width="0.5"/>
<rect x="-7.00" y="-1.65" width="14.00" height="3.30" rx="1.65" transform="translate(128.00 205.00) rotate(-60.0)" fill="#555" stroke="#484848" stroke-width="0.5"/>
<rect x="-6.50" y="-1.60" width="13.00" height="3.20" rx="1.60" transform="translate(25.50 198.50) rotate(58.0)" fill="#4e4e4e" stroke="#484848" stroke-width="0.4"/>
<rect x="-7.00" y="-1.60" width="14.00" height="3.20" rx="1.60" transform="translate(34.50 210.50) rotate(55.0)" fill="#4e4e4e" stroke="#484848" stroke-width="0.4"/>
<rect x="-6.00" y="-1.60" width="12.00" height="3.20" rx="1.60" transform="translate(41.50 219.50) rotate(52.0)" fill="#4e4e4e" stroke="#484848" stroke-width="0.4"/>
<rect x="-7.00" y="-1.60" width="14.00" height="3.20" rx="1.60" transform="translate(51.50 230.50) rotate(50.0)" fill="#4e4e4e" stroke="#484848" stroke-width="0.4"/>
<rect x="-6.00" y="-1.60" width="12.00" height="3.20" rx="1.60" transform="translate(58.50 238.50) rotate(48.0)" fill="#4e4e4e" stroke="#484848" stroke-width="0.4"/>
<rect x="-6.50" y="-1.60" width="13.00" height="3.20" rx="1.60" transform="translate(67.00 247.00) rotate(40.0)" fill="#4e4e4e" stroke="#484848" stroke-width="0.4"/>
<rect x="-7.00" y="-1.60" width="14.00" height="3.20" rx="1.60" transform="translate(78.00 252.50) rotate(30.0)" fill="#4e4e4e" stroke="#484848" stroke-width="0.4"/>
<rect x="-8.00" y="-1.60" width="16.00" height="3.20" rx="1.60" transform="translate(93.00 255.50) rotate(25.0)" fill="#4e4e4e" stroke="#484848" stroke-width="0.4"/>
<rect x="-8.50" y="-1.60" width="17.00" height="3.20" rx="1.60" transform="translate(104.00 258.00) rotate(48.0)" fill="#4e4e4e" stroke="#484848" stroke-width="0.4"/>
<rect x="-7.00" y="-1.60" width="14.00" height="3.20" rx="1.60" transform="translate(118.00 255.00) rotate(12.0)" fill="#4e4e4e" stroke="#484848" stroke-width="0.4"/>
<rect x="-7.50" y="-1.60" width="15.00" height="3.20" rx="1.60" transform="translate(133.00 252.00) rotate(8.0)" fill="#4e4e4e" stroke="#484848" stroke-width="0.4"/>
<rect x="-6.50" y="-1.60" width="13.00" height="3.20" rx="1.60" transform="translate(99.00 204.00) rotate(75.0)" fill="#4e4e4e" stroke="#484848" stroke-width="0.4"/>
<rect x="-6.00" y="-1.60" width="12.00" height="3.20" rx="1.60" transform="translate(101.00 216.00) rotate(60.0)" fill="#4e4e4e" stroke="#484848" stroke-width="0.4"/>
</g>
<g filter="url(#b3)">
<rect x="-3.50" y="-0.60" width="7.00" height="1.20" rx="0.60" transform="translate(133.50 199.00) rotate(-58.0)" fill="#e8e8e8" stroke="#e8e8e8" stroke-width="0.2"/>
<rect x="-3.00" y="-0.60" width="6.00" height="1.20" rx="0.60" transform="translate(137.50 196.00) rotate(-58.0)" fill="#e8e8e8" stroke="#e8e8e8" stroke-width="0.2"/>
<rect x="-2.50" y="-0.60" width="5.00" height="1.20" rx="0.60" transform="translate(130.50 207.00) rotate(-60.0)" fill="#e8e8e8" stroke="#e8e8e8" stroke-width="0.2"/>
</g>
</g>
<g clip-path="url(#cB)">
<rect x="0" y="271" width="143.7" height="107" fill="#494949"/>
<g filter="url(#b1)">
<rect x="-8.62" y="-1.50" width="17.24" height="3.00" rx="1.50" transform="translate(23.09 279.30) rotate(18.8)" fill="#8d8d8d" stroke="#8d8d8d" stroke-width="0.3"/>
<rect x="-8.03" y="-1.50" width="16.07" height="3.00" rx="1.50" transform="translate(40.27 285.89) rotate(22.7)" fill="#999999" stroke="#999999" stroke-width="0.3"/>
<rect x="-10.37" y="-1.50" width="20.75" height="3.00" rx="1.50" transform="translate(59.22 293.17) rotate(19.2)" fill="#8f8f8f" stroke="#8f8f8f" stroke-width="0.3"/>
<rect x="-9.57" y="-1.50" width="19.15" height="3.00" rx="1.50" transform="translate(79.00 300.76) rotate(20.0)" fill="#7c7c7c" stroke="#7c7c7c" stroke-width="0.3"/>
<rect x="-6.62" y="-1.50" width="13.23" height="3.00" rx="1.50" transform="translate(29.05 285.87) rotate(23.4)" fill="#929292" stroke="#929292" stroke-width="0.3"/>
<rect x="-10.41" y="-1.50" width="20.82" height="3.00" rx="1.50" transform="translate(46.30 292.49) rotate(21.3)" fill="#8d8d8d" stroke="#8d8d8d" stroke-width="0.3"/>
<rect x="-9.11" y="-1.50" width="18.22" height="3.00" rx="1.50" transform="translate(66.34 300.19) rotate(20.3)" fill="#888888" stroke="#888888" stroke-width="0.3"/>
<rect x="-6.66" y="-1.50" width="13.33" height="3.00" rx="1.50" transform="translate(81.88 306.15) rotate(22.8)" fill="#696969" stroke="#696969" stroke-width="0.3"/>
<rect x="-6.55" y="-1.50" width="13.09" height="3.00" rx="1.50" transform="translate(46.62 296.90) rotate(20.2)" fill="#8a8a8a" stroke="#8a8a8a" stroke-width="0.3"/>
<rect x="-8.96" y="-1.50" width="17.92" height="3.00" rx="1.50" transform="translate(62.30 302.92) rotate(23.6)" fill="#8e8e8e" stroke="#8e8e8e" stroke-width="0.3"/>
<rect x="-8.60" y="-1.50" width="17.21" height="3.00" rx="1.50" transform="translate(79.93 309.69) rotate(20.5)" fill="#696969" stroke="#696969" stroke-width="0.3"/>
<rect x="-3.51" y="-1.50" width="7.02" height="3.00" rx="1.50" transform="translate(92.41 314.48) rotate(19.5)" fill="#757575" stroke="#757575" stroke-width="0.3"/>
<rect x="-10.22" y="-1.50" width="20.43" height="3.00" rx="1.50" transform="translate(68.65 309.64) rotate(22.7)" fill="#797979" stroke="#797979" stroke-width="0.3"/>
<rect x="-9.64" y="-1.50" width="19.29" height="3.00" rx="1.50" transform="translate(88.31 317.19) rotate(18.1)" fill="#767676" stroke="#767676" stroke-width="0.3"/>
<rect x="-6.76" y="-1.50" width="13.51" height="3.00" rx="1.50" transform="translate(83.11 319.48) rotate(23.1)" fill="#6e6e6e" stroke="#6e6e6e" stroke-width="0.3"/>
<rect x="-3.79" y="-1.50" width="7.59" height="3.00" rx="1.50" transform="translate(93.88 323.61) rotate(23.6)" fill="#6e6e6e" stroke="#6e6e6e" stroke-width="0.3"/>
<rect x="-3.89" y="-1.50" width="7.78" height="3.00" rx="1.50" transform="translate(93.92 330.01) rotate(55.2)" fill="#606060" stroke="#606060" stroke-width="0.3"/>
<rect x="-3.76" y="-1.50" width="7.51" height="3.00" rx="1.50" transform="translate(85.99 325.40) rotate(53.5)" fill="#676767" stroke="#676767" stroke-width="0.3"/>
<rect x="-7.93" y="-1.50" width="15.87" height="3.00" rx="1.50" transform="translate(79.88 323.49) rotate(56.7)" fill="#4f4f4f" stroke="#4f4f4f" stroke-width="0.3"/>
<rect x="-4.42" y="-1.50" width="8.85" height="3.00" rx="1.50" transform="translate(87.74 335.15) rotate(58.8)" fill="#5f5f5f" stroke="#5f5f5f" stroke-width="0.3"/>
<rect x="-9.06" y="-1.50" width="18.12" height="3.00" rx="1.50" transform="translate(71.73 318.57) rotate(55.8)" fill="#4f4f4f" stroke="#4f4f4f" stroke-width="0.3"/>
<rect x="-6.82" y="-1.50" width="13.63" height="3.00" rx="1.50" transform="translate(81.65 333.28) rotate(58.4)" fill="#5a5a5a" stroke="#5a5a5a" stroke-width="0.3"/>
<rect x="-6.85" y="-1.50" width="13.71" height="3.00" rx="1.50" transform="translate(62.38 311.86) rotate(56.2)" fill="#535353" stroke="#535353" stroke-width="0.3"/>
<rect x="-7.80" y="-1.50" width="15.59" height="3.00" rx="1.50" transform="translate(71.60 325.52) rotate(56.8)" fill="#464646" stroke="#464646" stroke-width="0.3"/>
<rect x="-8.69" y="-1.50" width="17.37" height="3.00" rx="1.50" transform="translate(81.91 340.81) rotate(53.2)" fill="#545454" stroke="#545454" stroke-width="0.3"/>
<rect x="-6.95" y="-1.50" width="13.91" height="3.00" rx="1.50" transform="translate(54.30 307.03) rotate(53.5)" fill="#555555" stroke="#555555" stroke-width="0.3"/>
<rect x="-7.95" y="-1.50" width="15.91" height="3.00" rx="1.50" transform="translate(63.61 320.84) rotate(56.6)" fill="#515151" stroke="#515151" stroke-width="0.3"/>
<rect x="-10.25" y="-1.50" width="20.49" height="3.00" rx="1.50" transform="translate(74.39 336.81) rotate(57.7)" fill="#585858" stroke="#585858" stroke-width="0.3"/>
<rect x="-8.39" y="-1.50" width="16.77" height="3.00" rx="1.50" transform="translate(47.13 303.56) rotate(54.1)" fill="#474747" stroke="#474747" stroke-width="0.3"/>
<rect x="-6.05" y="-1.50" width="12.10" height="3.00" rx="1.50" transform="translate(55.72 316.28) rotate(58.5)" fill="#4a4a4a" stroke="#4a4a4a" stroke-width="0.3"/>
<rect x="-10.42" y="-1.50" width="20.85" height="3.00" rx="1.50" transform="translate(65.64 331.00) rotate(54.2)" fill="#545454" stroke="#545454" stroke-width="0.3"/>
<rect x="-7.71" y="-1.50" width="15.42" height="3.00" rx="1.50" transform="translate(76.39 346.94) rotate(55.2)" fill="#555555" stroke="#555555" stroke-width="0.3"/>
<rect x="-7.60" y="-1.50" width="15.20" height="3.00" rx="1.50" transform="translate(37.99 297.16) rotate(58.9)" fill="#818181" stroke="#818181" stroke-width="0.3"/>
<rect x="-8.62" y="-1.50" width="17.23" height="3.00" rx="1.50" transform="translate(47.63 311.45) rotate(53.5)" fill="#4a4a4a" stroke="#4a4a4a" stroke-width="0.3"/>
<rect x="-8.96" y="-1.50" width="17.92" height="3.00" rx="1.50" transform="translate(58.36 327.35) rotate(58.5)" fill="#4c4c4c" stroke="#4c4c4c" stroke-width="0.3"/>
<rect x="-7.66" y="-1.50" width="15.33" height="3.00" rx="1.50" transform="translate(68.52 342.42) rotate(57.5)" fill="#4c4c4c" stroke="#4c4c4c" stroke-width="0.3"/>
<rect x="-4.04" y="-1.50" width="8.07" height="3.00" rx="1.50" transform="translate(75.81 353.23) rotate(54.3)" fill="#616161" stroke="#616161" stroke-width="0.3"/>
<rect x="-10.30" y="-1.50" width="20.60" height="3.00" rx="1.50" transform="translate(31.50 294.69) rotate(53.1)" fill="#7c7c7c" stroke="#7c7c7c" stroke-width="0.3"/>
<rect x="-8.71" y="-1.50" width="17.42" height="3.00" rx="1.50" transform="translate(42.87 311.54) rotate(58.3)" fill="#5a5a5a" stroke="#5a5a5a" stroke-width="0.3"/>
<rect x="-8.86" y="-1.50" width="17.73" height="3.00" rx="1.50" transform="translate(53.18 326.83) rotate(57.3)" fill="#484848" stroke="#484848" stroke-width="0.3"/>
<rect x="-6.54" y="-1.50" width="13.09" height="3.00" rx="1.50" transform="translate(62.33 340.39) rotate(53.9)" fill="#494949" stroke="#494949" stroke-width="0.3"/>
<rect x="-3.79" y="-1.50" width="7.59" height="3.00" rx="1.50" transform="translate(68.85 350.06) rotate(55.7)" fill="#676767" stroke="#676767" stroke-width="0.3"/>
<rect x="-8.49" y="-1.50" width="16.98" height="3.00" rx="1.50" transform="translate(21.57 287.12) rotate(54.2)" fill="#8e8e8e" stroke="#8e8e8e" stroke-width="0.3"/>
<rect x="-7.13" y="-1.50" width="14.27" height="3.00" rx="1.50" transform="translate(31.11 301.26) rotate(56.9)" fill="#656565" stroke="#656565" stroke-width="0.3"/>
<rect x="-6.39" y="-1.50" width="12.77" height="3.00" rx="1.50" transform="translate(39.60 313.84) rotate(53.2)" fill="#4c4c4c" stroke="#4c4c4c" stroke-width="0.3"/>
<rect x="-9.26" y="-1.50" width="18.52" height="3.00" rx="1.50" transform="translate(49.10 327.93) rotate(58.5)" fill="#4f4f4f" stroke="#4f4f4f" stroke-width="0.3"/>
<rect x="-8.88" y="-1.50" width="17.77" height="3.00" rx="1.50" transform="translate(60.17 344.35) rotate(53.8)" fill="#494949" stroke="#494949" stroke-width="0.3"/>
<rect x="-6.20" y="-1.50" width="12.40" height="3.00" rx="1.50" transform="translate(15.05 284.61) rotate(57.0)" fill="#898989" stroke="#898989" stroke-width="0.3"/>
<rect x="-7.80" y="-1.50" width="15.61" height="3.00" rx="1.50" transform="translate(23.78 297.56) rotate(53.4)" fill="#6b6b6b" stroke="#6b6b6b" stroke-width="0.3"/>
<rect x="-8.71" y="-1.50" width="17.42" height="3.00" rx="1.50" transform="translate(34.06 312.79) rotate(58.4)" fill="#6d6d6d" stroke="#6d6d6d" stroke-width="0.3"/>
<rect x="-7.61" y="-1.50" width="15.21" height="3.00" rx="1.50" transform="translate(43.82 327.26) rotate(53.6)" fill="#585858" stroke="#585858" stroke-width="0.3"/>
<rect x="-4.13" y="-1.50" width="8.27" height="3.00" rx="1.50" transform="translate(51.21 338.21) rotate(54.9)" fill="#5a5a5a" stroke="#5a5a5a" stroke-width="0.3"/>
<rect x="-6.80" y="-1.50" width="13.60" height="3.00" rx="1.50" transform="translate(12.82 288.46) rotate(57.1)" fill="#6d6d6d" stroke="#6d6d6d" stroke-width="0.3"/>
<rect x="-9.55" y="-1.50" width="19.10" height="3.00" rx="1.50" transform="translate(22.71 303.12) rotate(55.6)" fill="#5b5b5b" stroke="#5b5b5b" stroke-width="0.3"/>
<rect x="-6.15" y="-1.50" width="12.30" height="3.00" rx="1.50" transform="translate(32.54 317.70) rotate(58.6)" fill="#515151" stroke="#515151" stroke-width="0.3"/>
<rect x="-6.26" y="-1.50" width="12.53" height="3.00" rx="1.50" transform="translate(40.15 328.97) rotate(56.4)" fill="#494949" stroke="#494949" stroke-width="0.3"/>
<rect x="-7.95" y="-1.50" width="15.90" height="3.00" rx="1.50" transform="translate(108.91 331.00) rotate(28.3)" fill="#797979" stroke="#797979" stroke-width="0.3"/>
<rect x="-8.56" y="-1.50" width="17.13" height="3.00" rx="1.50" transform="translate(106.39 334.20) rotate(27.6)" fill="#7f7f7f" stroke="#7f7f7f" stroke-width="0.3"/>
<rect x="-6.72" y="-1.50" width="13.45" height="3.00" rx="1.50" transform="translate(120.96 341.63) rotate(29.1)" fill="#777777" stroke="#777777" stroke-width="0.3"/>
<rect x="-7.43" y="-1.50" width="14.86" height="3.00" rx="1.50" transform="translate(102.92 336.92) rotate(24.4)" fill="#868686" stroke="#868686" stroke-width="0.3"/>
<rect x="-8.09" y="-1.50" width="16.17" height="3.00" rx="1.50" transform="translate(117.85 344.54) rotate(25.3)" fill="#777777" stroke="#777777" stroke-width="0.3"/>
<rect x="-6.04" y="-1.50" width="12.08" height="3.00" rx="1.50" transform="translate(131.65 351.57) rotate(25.7)" fill="#828282" stroke="#828282" stroke-width="0.3"/>
<rect x="-6.25" y="-1.50" width="12.50" height="3.00" rx="1.50" transform="translate(100.45 340.15) rotate(29.6)" fill="#818181" stroke="#818181" stroke-width="0.3"/>
<rect x="-8.54" y="-1.50" width="17.08" height="3.00" rx="1.50" transform="translate(114.57 347.35) rotate(28.8)" fill="#7e7e7e" stroke="#7e7e7e" stroke-width="0.3"/>
<rect x="-3.60" y="-1.50" width="7.20" height="3.00" rx="1.50" transform="translate(126.54 353.45) rotate(25.9)" fill="#848484" stroke="#848484" stroke-width="0.3"/>
<rect x="-6.16" y="-1.50" width="12.33" height="3.00" rx="1.50" transform="translate(98.61 343.71) rotate(30.0)" fill="#797979" stroke="#797979" stroke-width="0.3"/>
<rect x="-9.79" y="-1.50" width="19.58" height="3.00" rx="1.50" transform="translate(113.85 351.47) rotate(24.3)" fill="#7f7f7f" stroke="#7f7f7f" stroke-width="0.3"/>
<rect x="-9.67" y="-1.50" width="19.35" height="3.00" rx="1.50" transform="translate(99.29 348.54) rotate(28.7)" fill="#848484" stroke="#848484" stroke-width="0.3"/>
<rect x="-6.06" y="-1.50" width="12.11" height="3.00" rx="1.50" transform="translate(115.03 356.57) rotate(26.3)" fill="#868686" stroke="#868686" stroke-width="0.3"/>
<rect x="-7.37" y="-1.50" width="14.73" height="3.00" rx="1.50" transform="translate(94.93 350.81) rotate(24.5)" fill="#828282" stroke="#828282" stroke-width="0.3"/>
<rect x="-3.55" y="-1.50" width="7.09" height="3.00" rx="1.50" transform="translate(105.64 356.27) rotate(29.2)" fill="#7a7a7a" stroke="#7a7a7a" stroke-width="0.3"/>
<rect x="-9.61" y="-1.50" width="19.22" height="3.00" rx="1.50" transform="translate(95.44 355.56) rotate(27.7)" fill="#828282" stroke="#828282" stroke-width="0.3"/>
<rect x="-8.46" y="-1.50" width="16.92" height="3.00" rx="1.50" transform="translate(91.46 358.02) rotate(28.4)" fill="#737373" stroke="#737373" stroke-width="0.3"/>
<rect x="-9.00" y="-1.60" width="18.00" height="3.20" rx="1.60" transform="translate(95.50 315.00) rotate(70.0)" fill="#9a9a9a" stroke="#9a9a9a" stroke-width="0.3"/>
<rect x="-12.00" y="-1.70" width="24.00" height="3.40" rx="1.70" transform="translate(90.00 355.00) rotate(62.0)" fill="#a0a0a0" stroke="#a0a0a0" stroke-width="0.3"/>
<rect x="-9.50" y="-1.60" width="19.00" height="3.20" rx="1.60" transform="translate(126.50 315.50) rotate(-62.0)" fill="#585858" stroke="#585858" stroke-width="0.3"/>
<rect x="-10.50" y="-1.60" width="21.00" height="3.20" rx="1.60" transform="translate(130.00 304.00) rotate(-56.0)" fill="#585858" stroke="#585858" stroke-width="0.3"/>
<rect x="-10.00" y="-1.60" width="20.00" height="3.20" rx="1.60" transform="translate(136.00 310.50) rotate(-60.0)" fill="#585858" stroke="#585858" stroke-width="0.3"/>
<rect x="-7.00" y="-1.60" width="14.00" height="3.20" rx="1.60" transform="translate(140.00 310.00) rotate(-60.0)" fill="#585858" stroke="#585858" stroke-width="0.3"/>
<rect x="-9.50" y="-1.60" width="19.00" height="3.20" rx="1.60" transform="translate(138.00 289.00) rotate(-58.0)" fill="#585858" stroke="#585858" stroke-width="0.3"/>
<rect x="-6.00" y="-1.60" width="12.00" height="3.20" rx="1.60" transform="translate(141.80 279.00) rotate(-75.0)" fill="#585858" stroke="#585858" stroke-width="0.3"/>
<rect x="-10.00" y="-1.60" width="20.00" height="3.20" rx="1.60" transform="translate(132.50 310.00) rotate(-59.0)" fill="#585858" stroke="#585858" stroke-width="0.3"/>
<rect x="-8.00" y="-1.60" width="16.00" height="3.20" rx="1.60" transform="translate(134.50 298.00) rotate(-57.0)" fill="#585858" stroke="#585858" stroke-width="0.3"/>
<rect x="-7.00" y="-1.60" width="14.00" height="3.20" rx="1.60" transform="translate(128.00 310.00) rotate(-60.0)" fill="#585858" stroke="#585858" stroke-width="0.3"/>
<rect x="-6.50" y="-1.50" width="13.00" height="3.00" rx="1.50" transform="translate(22.50 303.50) rotate(58.0)" fill="#525252" stroke="#525252" stroke-width="0.3"/>
<rect x="-7.00" y="-1.50" width="14.00" height="3.00" rx="1.50" transform="translate(31.50 315.50) rotate(55.0)" fill="#525252" stroke="#525252" stroke-width="0.3"/>
<rect x="-6.00" y="-1.50" width="12.00" height="3.00" rx="1.50" transform="translate(38.50 324.50) rotate(52.0)" fill="#525252" stroke="#525252" stroke-width="0.3"/>
<rect x="-7.00" y="-1.50" width="14.00" height="3.00" rx="1.50" transform="translate(48.50 335.50) rotate(50.0)" fill="#525252" stroke="#525252" stroke-width="0.3"/>
<rect x="-6.00" y="-1.50" width="12.00" height="3.00" rx="1.50" transform="translate(55.50 343.50) rotate(48.0)" fill="#525252" stroke="#525252" stroke-width="0.3"/>
<rect x="-6.50" y="-1.50" width="13.00" height="3.00" rx="1.50" transform="translate(64.00 352.00) rotate(40.0)" fill="#525252" stroke="#525252" stroke-width="0.3"/>
<rect x="-7.00" y="-1.50" width="14.00" height="3.00" rx="1.50" transform="translate(75.00 357.50) rotate(30.0)" fill="#525252" stroke="#525252" stroke-width="0.3"/>
<rect x="-8.00" y="-1.50" width="16.00" height="3.00" rx="1.50" transform="translate(90.00 360.50) rotate(25.0)" fill="#525252" stroke="#525252" stroke-width="0.3"/>
<rect x="-8.50" y="-1.50" width="17.00" height="3.00" rx="1.50" transform="translate(101.00 363.00) rotate(48.0)" fill="#525252" stroke="#525252" stroke-width="0.3"/>
<rect x="-7.00" y="-1.50" width="14.00" height="3.00" rx="1.50" transform="translate(115.00 360.00) rotate(12.0)" fill="#525252" stroke="#525252" stroke-width="0.3"/>
<rect x="-7.50" y="-1.50" width="15.00" height="3.00" rx="1.50" transform="translate(130.00 357.00) rotate(8.0)" fill="#525252" stroke="#525252" stroke-width="0.3"/>
<rect x="-6.50" y="-1.50" width="13.00" height="3.00" rx="1.50" transform="translate(96.00 309.00) rotate(75.0)" fill="#525252" stroke="#525252" stroke-width="0.3"/>
<rect x="-6.00" y="-1.50" width="12.00" height="3.00" rx="1.50" transform="translate(98.00 321.00) rotate(60.0)" fill="#525252" stroke="#525252" stroke-width="0.3"/>
</g>
<g filter="url(#b3)" fill="#f6f6f6">
<circle cx="15.9" cy="276.8" r="1.15"/>
<circle cx="87.1" cy="303.7" r="1.15"/>
<circle cx="34.2" cy="288.1" r="1.15"/>
<circle cx="37.5" cy="289.1" r="1.15"/>
<circle cx="74.0" cy="303.0" r="1.15"/>
<circle cx="55.0" cy="299.7" r="1.15"/>
<circle cx="94.8" cy="315.3" r="1.15"/>
<circle cx="60.2" cy="306.1" r="1.15"/>
<circle cx="80.1" cy="314.5" r="1.15"/>
<circle cx="65.6" cy="316.7" r="1.15"/>
<circle cx="67.4" cy="326.6" r="1.15"/>
<circle cx="51.5" cy="309.5" r="1.15"/>
<circle cx="72.6" cy="341.4" r="1.15"/>
<circle cx="34.6" cy="291.5" r="1.15"/>
<circle cx="54.2" cy="320.6" r="1.15"/>
<circle cx="64.9" cy="336.8" r="1.15"/>
<circle cx="37.1" cy="302.1" r="1.15"/>
<circle cx="99.7" cy="330.7" r="1.15"/>
<circle cx="128.9" cy="354.6" r="1.15"/>
<circle cx="103.1" cy="346.3" r="1.15"/>
<circle cx="91.7" cy="344.4" r="1.15"/>
<circle cx="107.9" cy="357.5" r="1.15"/>
<circle cx="98.0" cy="361.6" r="1.15"/>
<circle cx="98.5" cy="323.5" r="1.15"/>
<circle cx="92.5" cy="306.5" r="1.15"/>
<circle cx="84.5" cy="344.5" r="1.15"/>
<circle cx="95.5" cy="365.5" r="1.15"/>
</g>
</g>
<g id="panelC">
<path d="M187.8 363.40h2.2M390.7 363.40h-2.2 M187.8 340.62h2.2M390.7 340.62h-2.2 M187.8 317.84h2.2M390.7 317.84h-2.2 M187.8 295.06h2.2M390.7 295.06h-2.2 M187.8 272.28h2.2M390.7 272.28h-2.2 M187.8 249.50h2.2M390.7 249.50h-2.2 M187.8 226.72h2.2M390.7 226.72h-2.2 M187.8 203.94h2.2M390.7 203.94h-2.2 M187.8 181.16h2.2M390.7 181.16h-2.2 M221.2 363.4v-2.2M221.2 167.3v2.2 M288.9 363.4v-2.2M288.9 167.3v2.2 M356.4 363.4v-2.2M356.4 167.3v2.2" stroke="#3c3c3c" stroke-width="0.8" fill="none"/>
<rect x="193.6" y="278.20" width="55.20" height="85.20" fill="#808080" stroke="#3a3a3a" stroke-width="0.7"/>
<rect x="261.3" y="218.06" width="54.40" height="145.34" fill="#808080" stroke="#3a3a3a" stroke-width="0.7"/>
<rect x="329.6" y="340.39" width="53.80" height="23.01" fill="#808080" stroke="#3a3a3a" stroke-width="0.7"/>
<rect x="187.8" y="167.3" width="202.9" height="196.10" fill="none" stroke="#3c3c3c" stroke-width="0.8"/>
<path d="M221.2 297.7V258.3M220.0 297.7h2.4M220.0 258.3h2.4" stroke="#111" stroke-width="1.2" fill="none"/>
<circle cx="221.2" cy="278.20" r="2.8" fill="none" stroke="#111" stroke-width="1.1"/>
<path d="M288.9 259.5V177.5M287.7 259.5h2.4M287.7 177.5h2.4" stroke="#111" stroke-width="1.2" fill="none"/>
<circle cx="288.9" cy="218.06" r="2.8" fill="none" stroke="#111" stroke-width="1.1"/>
<path d="M356.4 344.3V337.2M355.2 344.3h2.4M355.2 337.2h2.4" stroke="#111" stroke-width="1.2" fill="none"/>
<circle cx="356.4" cy="340.39" r="2.8" fill="none" stroke="#111" stroke-width="1.1"/>
<g font-family="Liberation Sans, sans-serif" font-size="10px" fill="#000">
<text x="184.4" y="367.50" text-anchor="end">0</text>
<text x="184.4" y="344.72" text-anchor="end">0.05</text>
<text x="184.4" y="321.94" text-anchor="end">0.1</text>
<text x="184.4" y="299.16" text-anchor="end">0.15</text>
<text x="184.4" y="276.38" text-anchor="end">0.2</text>
<text x="184.4" y="253.60" text-anchor="end">0.25</text>
<text x="184.4" y="230.82" text-anchor="end">0.3</text>
<text x="184.4" y="208.04" text-anchor="end">0.35</text>
<text x="184.4" y="185.26" text-anchor="end">0.4</text>
<text x="221.2" y="376.7" text-anchor="middle">lac/ara−1 IPTG</text>
<text x="288.9" y="376.7" text-anchor="middle">lac/ara−1 Arab</text>
<text x="356.4" y="376.7" text-anchor="middle">lac IPTG</text>
<text transform="translate(162.6 283.9) rotate(-90)" font-size="10.2px">CV</text>
<text transform="translate(157.6 269.6) rotate(-90)" font-size="8px">2</text>
<text transform="translate(167.8 268.6) rotate(-90)" font-size="8px">phe</text>
</g></g>
<g id="panelD">
<polyline points="431.8,38.9 440.9,38.5 450.0,37.8 459.1,33.7 468.3,28.6 477.4,22.9 486.5,20.5 495.6,21.5 504.7,22 513.8,21.5 523.0,21 532.1,22 541.2,21.5 550.3,21.2 559.4,20.9 568.5,20.3 577.6,19.8 586.8,18.8 595.9,19 605.0,18.7 614.1,18.4 623.2,19.4 632.3,20.9 641.4,20 650.6,20.5" fill="none" stroke="#2a2a2a" stroke-width="1.3" stroke-dasharray="1.3 3.4"/>
<polyline points="431.8,45.4 440.9,46.6 450.0,45 459.1,42 468.3,37.8 477.4,33.7 486.5,29.7 495.6,31.7 504.7,30.7 513.8,29 523.0,30.7 532.1,31.5 541.2,28.6 550.3,28.6 559.4,28.2 568.5,27.6 577.6,26.6 586.8,26.2 595.9,27 605.0,26.6 614.1,25.6 623.2,27 632.3,28 641.4,27.6 650.6,26.6" fill="none" stroke="#000" stroke-width="1.55" stroke-dasharray="8 5.5"/>
<polyline points="431.8,45.4 440.9,42.3 450.0,43 459.1,34.8 468.3,30.3 477.4,19.4 486.5,14.7 495.6,14.9 504.7,18.8 513.8,13.7 523.0,15.8 532.1,18.6 541.2,15.3 550.3,16.4 559.4,12.7 568.5,8.6 577.6,4.7 586.8,8.8 595.9,10.6 605.0,5.7 614.1,8.2 623.2,6.5 632.3,13.3 641.4,7.6 650.6,5.7" fill="none" stroke="#000" stroke-width="1.45" stroke-linejoin="miter"/>
<polyline points="431.8,98.9 440.9,95.8 450.0,92.7 459.1,90.7 468.3,87.6 477.4,81.5 486.5,81.1 495.6,80 504.7,80 513.8,80.9 523.0,81 532.1,81 541.2,82.5 550.3,85.6 559.4,82.9 568.5,81.5 577.6,80.5 586.8,83.5 595.9,84.5 605.0,86.6 614.1,89.2 623.2,91.7 632.3,91.7 641.4,90.7 650.6,93.7" fill="none" stroke="#5068c4" stroke-width="1.3" stroke-dasharray="1.3 3.4"/>
<polyline points="431.8,103.6 440.9,109.7 450.0,101.9 459.1,100.5 468.3,100.9 477.4,94.4 486.5,92.7 495.6,91.3 504.7,92.7 513.8,92.7 523.0,92.7 532.1,92.1 541.2,95.2 550.3,96.8 559.4,93.7 568.5,90.7 577.6,91.7 586.8,94.8 595.9,92.7 605.0,96.4 614.1,98.5 623.2,101.5 632.3,99.5 641.4,97.8 650.6,103.6" fill="none" stroke="#1f3a9a" stroke-width="1.55" stroke-dasharray="8 5.5"/>
<polyline points="431.8,103.6 440.9,102.3 450.0,81.1 459.1,93.3 468.3,86.6 477.4,71.7 486.5,66.5 495.6,73.3 504.7,74.3 513.8,75.5 523.0,75.5 532.1,71.8 541.2,85.6 550.3,74.7 559.4,68.2 568.5,71.9 577.6,76 586.8,85.6 595.9,79.8 605.0,79.6 614.1,81.5 623.2,81.9 632.3,83.1 641.4,88 650.6,81.1" fill="none" stroke="#1f3a9a" stroke-width="1.45" stroke-linejoin="miter"/>
<polyline points="431.8,162 440.9,160.9 450.0,159.9 459.1,154.8 468.3,153.7 477.4,153.7 486.5,151.1 495.6,150.3 504.7,150.3 513.8,149.7 523.0,148.6 532.1,147 541.2,146.6 550.3,145.6 559.4,143.1 568.5,143.1 577.6,146 586.8,145.6 595.9,145.2 605.0,146.6 614.1,146 623.2,150.3 632.3,151.7 641.4,152.7 650.6,151.7" fill="none" stroke="#4fb04f" stroke-width="1.3" stroke-dasharray="1.3 3.4"/>
<polyline points="431.8,171.5 440.9,172.6 450.0,174.8 459.1,168.7 468.3,166.6 477.4,168.1 486.5,163 495.6,162.5 504.7,164 513.8,163 523.0,160.3 532.1,159.9 541.2,159.5 550.3,158.2 559.4,156.4 568.5,155.4 577.6,158.2 586.8,158.2 595.9,156.8 605.0,158.9 614.1,156.8 623.2,160.5 632.3,161.9 641.4,163.4 650.6,161.5" fill="none" stroke="#128a12" stroke-width="1.55" stroke-dasharray="8 5.5"/>
<polyline points="431.8,150.1 440.9,165 450.0,159.5 459.1,155.8 468.3,160.3 477.4,156.2 486.5,150.7 495.6,150.1 504.7,146.2 513.8,156.8 523.0,149.7 532.1,151.9 541.2,142.5 550.3,143.9 559.4,137.4 568.5,128.6 577.6,142.1 586.8,133.9 595.9,137.4 605.0,140.5 614.1,133.9 623.2,158.2 632.3,141.5 641.4,138.4 650.6,149.2" fill="none" stroke="#128a12" stroke-width="1.45" stroke-linejoin="miter"/>
<path d="M431.8 2.5H650.6V64.5H431.8Z M468.3 64.5v-2.4M468.3 2.5v2.4 M504.7 64.5v-2.4M504.7 2.5v2.4 M541.2 64.5v-2.4M541.2 2.5v2.4 M577.6 64.5v-2.4M577.6 2.5v2.4 M614.1 64.5v-2.4M614.1 2.5v2.4 M431.8 64.5H650.6V127.2H431.8Z M468.3 127.2v-2.4M468.3 64.5v2.4 M504.7 127.2v-2.4M504.7 64.5v2.4 M541.2 127.2v-2.4M541.2 64.5v2.4 M577.6 127.2v-2.4M577.6 64.5v2.4 M614.1 127.2v-2.4M614.1 64.5v2.4 M431.8 127.2H650.6V191.4H431.8Z M468.3 191.4v-2.4M468.3 127.2v2.4 M504.7 191.4v-2.4M504.7 127.2v2.4 M541.2 191.4v-2.4M541.2 127.2v2.4 M577.6 191.4v-2.4M577.6 127.2v2.4 M614.1 191.4v-2.4M614.1 127.2v2.4 M431.8 25.6h2.4M650.6 25.6h-2.4M431.8 92.3h2.4M650.6 92.3h-2.4M431.8 159.3h2.4M650.6 159.3h-2.4" fill="none" stroke="#333" stroke-width="0.8"/>
<g font-family="Liberation Sans, sans-serif" font-size="12px" fill="#000">
<text x="428.0" y="30.3" text-anchor="end">0.2</text>
<text x="428.0" y="69.3" text-anchor="end">0</text>
<text x="428.0" y="97.0" text-anchor="end">0.1</text>
<text x="428.0" y="131.8" text-anchor="end">0</text>
<text x="428.0" y="164.0" text-anchor="end">0.1</text>
<text x="428.0" y="196.1" text-anchor="end">0</text>
<text x="431.8" y="206.8" text-anchor="middle">0</text>
<text x="468.3" y="206.8" text-anchor="middle">20</text>
<text x="504.7" y="206.8" text-anchor="middle">40</text>
<text x="541.2" y="206.8" text-anchor="middle">60</text>
<text x="577.6" y="206.8" text-anchor="middle">80</text>
<text x="614.1" y="206.8" text-anchor="middle">100</text>
<text x="650.6" y="206.8" text-anchor="middle">120</text>
<text x="546" y="216.5" text-anchor="middle">Time (min)</text>
<text transform="translate(410.9 27.0) rotate(-90)" text-anchor="middle" font-size="12.5px">MI</text>
<text transform="translate(410.9 94.3) rotate(-90)" text-anchor="middle" font-size="12.5px">MI</text>
<text transform="translate(410.9 161.2) rotate(-90)" text-anchor="middle" font-size="12.5px">MI</text>
</g></g>
<g id="panelE">
<path d="M414.1 263.1H658" stroke="#000" stroke-width="1.7" stroke-dasharray="2 5.45" fill="none"/>
<path d="M467 220.2V248M440.5 248H493.7M440.5 248V310.3M427.4 310.3H453.8M427.4 310.3V359.8M415.6 359.8H439.5M415.6 359.8V378M439.5 359.8V378M453.8 310.3V378M493.7 248V316.4M480.2 316.4H506.7M480.2 316.4V378M506.7 316.4V378M589.5 220.7V254.3M564.7 254.3H617.1M564.7 254.3V303.7M550.9 303.7H577.9M550.9 303.7V378M577.9 303.7V378M617.1 254.3V294.4M603.6 294.4H630.3M603.6 294.4V378M630.3 294.4V346M618.2 346H642.3M618.2 346V378M642.3 346V378" stroke="#000" stroke-width="1.7" fill="none" stroke-linecap="square"/>
<circle cx="440.5" cy="294.2" r="3.7" fill="#dde5f3" stroke="#000" stroke-width="1.5"/>
<circle cx="427.4" cy="320.9" r="3.7" fill="#dde5f3" stroke="#000" stroke-width="1.5"/>
<circle cx="427.4" cy="349.8" r="3.7" fill="#dde5f3" stroke="#000" stroke-width="1.5"/>
<circle cx="439.5" cy="369.3" r="3.7" fill="#dde5f3" stroke="#000" stroke-width="1.5"/>
<circle cx="453.8" cy="350.8" r="3.7" fill="#dde5f3" stroke="#000" stroke-width="1.5"/>
<circle cx="493.7" cy="286.7" r="3.7" fill="#dde5f3" stroke="#000" stroke-width="1.5"/>
<circle cx="480.2" cy="337.6" r="3.7" fill="#dde5f3" stroke="#000" stroke-width="1.5"/>
<circle cx="564.7" cy="289.9" r="3.7" fill="#dde5f3" stroke="#000" stroke-width="1.5"/>
<circle cx="550.9" cy="320.9" r="3.7" fill="#dde5f3" stroke="#000" stroke-width="1.5"/>
<circle cx="550.9" cy="369.8" r="3.7" fill="#dde5f3" stroke="#000" stroke-width="1.5"/>
<circle cx="577.9" cy="312.4" r="3.7" fill="#dde5f3" stroke="#000" stroke-width="1.5"/>
<circle cx="577.9" cy="357.4" r="3.7" fill="#dde5f3" stroke="#000" stroke-width="1.5"/>
<circle cx="630.3" cy="304.5" r="3.7" fill="#dde5f3" stroke="#000" stroke-width="1.5"/>
<circle cx="630.3" cy="337.6" r="3.7" fill="#dde5f3" stroke="#000" stroke-width="1.5"/>
<circle cx="618.2" cy="361.9" r="3.7" fill="#dde5f3" stroke="#000" stroke-width="1.5"/>
<path d="M474.4 222.2V232.2M474.4 226.8H508.8M549.7 226.8H583.7M583.7 221.8V231.4" stroke="#000" stroke-width="1.6" fill="none"/>
<g font-family="Liberation Serif, serif" fill="#000">
<text x="512.4" y="232.3" font-size="11.8px">CV</text><text x="529.6" y="227.6" font-size="7.5px">2</text><text x="535" y="234.9" font-size="7.8px">phe</text>
<text x="421" y="282.1" font-size="12px">t</text><text x="424.3" y="283.70000000000005" font-size="8.2px">0</text>
<text x="472" y="281.5" font-size="12px">t</text><text x="475.3" y="283.1" font-size="8.2px">0</text>
<text x="543.6" y="280.5" font-size="12px">t</text><text x="546.9" y="282.1" font-size="8.2px">0</text>
<text x="643.2" y="288" font-size="12px">t</text><text x="646.5" y="289.6" font-size="8.2px">0</text>
<text x="414.9" y="339.8" font-size="11.8px" text-anchor="middle">Δt</text>
<text x="539.6" y="348.8" font-size="11.8px" text-anchor="middle">Δt</text>
<text x="588.5" y="341" font-size="11.8px" text-anchor="middle">Δt</text>
<text x="647.2" y="325.8" font-size="11.8px" text-anchor="middle">Δt</text>
<path d="M425 263.5V271 M425 286.5V294.5M418.8 289.3L425 294.5L431.2 289.3 M476 263.5V270 M476 284V290M469.8 284.8L476 290L482.2 284.8 M547.6 263.5V269 M547.6 283.5V291.2M541.4 286.0L547.6 291.2L553.8000000000001 286.0 M647.2 263.5V274.5 M647.2 291.8V304.5M641.0 299.3L647.2 304.5L653.4000000000001 299.3 M414.9 317.3V328.3 M414.9 343V354.5M408.7 349.3L414.9 354.5L421.09999999999997 349.3 M539.6 319V336.8 M539.6 353.4V370.6M533.4 365.40000000000003L539.6 370.6L545.8000000000001 365.40000000000003 M588.5 316.4V329.6 M588.5 344.2V356.9M582.3 351.7L588.5 356.9L594.7 351.7 M647.2 304.5V313.7 M647.2 328.3V337.6M641.0 332.40000000000003L647.2 337.6L653.4000000000001 332.40000000000003" stroke="#000" stroke-width="1.6" fill="none"/>
</g></g>
<g font-family="Liberation Sans, sans-serif" font-weight="bold" font-size="22.5px" fill="#000">
<text x="1.8" y="15.9">A</text><text x="4.4" y="183.4">B</text><text x="150.4" y="179.5">C</text><text x="396.1" y="17.1">D</text><text x="405.4" y="219.8">E</text>
</g>
</svg>
</body></html>
